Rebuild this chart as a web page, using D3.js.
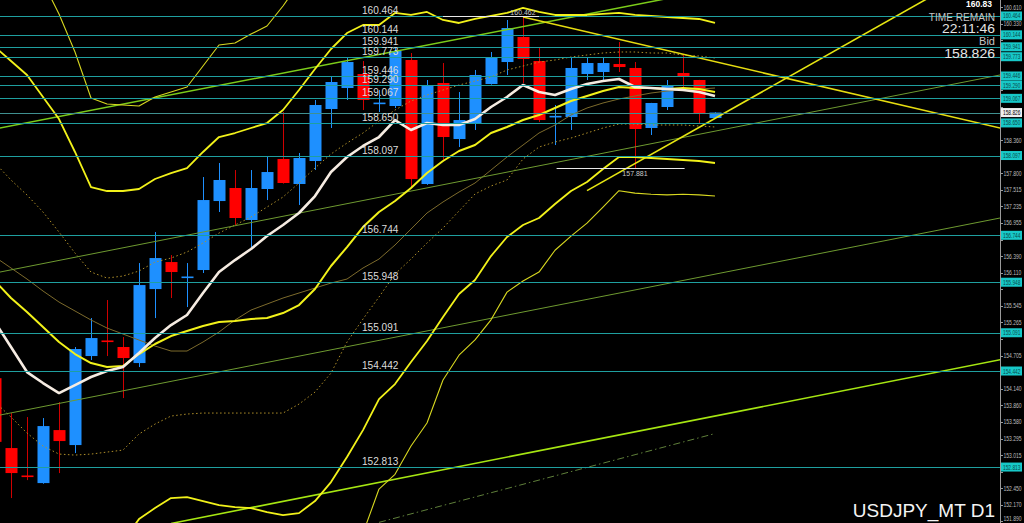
<!DOCTYPE html>
<html><head><meta charset="utf-8">
<script src="https://cdn.jsdelivr.net/npm/d3@7"></script>
<style>html,body{margin:0;padding:0;background:#000;}svg{display:block;}</style>
</head><body>
<svg id="chart" width="1024" height="523"></svg>
<script>
// ---------------- DATA ----------------
const firstIndex = -1; // index of first candle (partly off-screen)
const opens  = [154.32,153.135,152.670,152.541,153.440,153.186,154.696,154.960,154.849,154.577,155.832,156.290,156.030,156.155,157.325,157.546,157.003,157.529,158.038,157.614,158.004,158.886,159.242,159.480,158.980,158.937,159.717,157.614,159.327,158.377,158.632,159.310,159.683,160.107,159.700,158.760,158.750,159.480,159.514,159.649,159.582,158.564,158.920,159.497,159.378,158.733];
const highs  = [154.36,153.728,153.661,153.644,153.915,154.849,155.340,155.646,155.018,156.273,156.799,156.409,156.273,157.732,157.970,157.851,157.851,158.089,158.835,158.140,159.039,159.429,159.768,159.700,159.208,159.938,159.836,159.378,159.666,159.174,159.548,159.853,160.396,160.462,159.938,158.954,159.751,159.751,159.768,160.023,159.683,158.990,159.378,159.802,159.380,158.830];
const lows   = [153.15,152.287,152.592,152.530,152.711,153.050,154.628,154.696,153.983,154.509,155.340,155.680,155.527,156.104,157.139,156.918,156.545,157.342,157.620,157.258,157.851,158.564,159.039,158.869,158.835,158.903,157.563,157.600,158.021,158.241,158.530,159.300,159.463,159.327,158.665,158.275,158.530,159.378,159.378,159.514,157.881,158.445,158.869,159.259,158.648,158.733];
const closes = [153.24,152.711,152.650,153.508,153.254,154.815,155.001,154.940,154.662,155.900,156.358,156.121,156.045,157.342,157.682,157.037,157.546,157.817,157.631,158.055,158.954,159.344,159.683,159.039,158.995,159.870,157.698,159.276,158.411,158.699,159.463,159.768,160.260,159.734,158.699,158.770,159.582,159.666,159.666,159.598,158.547,158.988,159.293,159.446,158.801,158.826];

const maWhite = [155.273,154.849,154.424,154.238,154.068,154.204,154.340,154.441,154.509,154.747,155.001,155.222,155.392,155.765,156.121,156.324,156.511,156.732,156.918,157.122,157.410,157.817,158.072,158.259,158.411,158.699,158.530,158.648,158.615,158.615,158.716,158.920,159.090,159.293,159.174,159.123,159.225,159.310,159.361,159.395,159.259,159.242,159.225,159.208,159.174,159.106];
const bbMid = [155.968,155.680,155.442,155.188,154.934,154.730,154.577,154.509,154.526,154.730,154.900,155.035,155.120,155.205,155.273,155.290,155.324,155.341,155.425,155.561,155.833,156.223,156.545,156.884,157.139,157.325,157.546,157.800,158.004,158.174,158.275,158.479,158.581,158.699,158.784,158.903,159.022,159.107,159.191,159.259,159.242,159.242,159.225,159.242,159.225,159.174];
const bbUp2 = [159.938,159.700,159.463,159.090,158.716,158.157,157.563,157.495,157.495,157.529,157.699,157.800,157.885,158.157,158.411,158.479,158.564,158.648,158.869,159.208,159.565,159.904,160.175,160.311,160.311,160.515,160.481,160.532,160.396,160.345,160.413,160.464,160.515,160.600,160.532,160.481,160.481,160.481,160.498,160.515,160.481,160.464,160.447,160.430,160.413,160.345];
const bbLow2 = [151.49,151.659,151.422,151.286,151.151,151.303,151.591,151.524,151.557,151.930,152.117,152.287,152.304,152.236,152.168,152.134,152.117,152.049,151.998,152.032,152.236,152.558,152.983,153.440,153.966,154.221,154.594,154.950,155.358,155.748,155.985,156.392,156.715,156.918,157.037,157.274,157.495,157.648,157.868,158.072,158.072,158.055,158.038,158.021,158.004,157.970];
const bbUp3 = [161.922,161.702,161.47,161.04,160.498,159.853,159.073,158.971,158.954,158.937,159.09,159.174,159.259,159.615,159.972,160.006,160.158,160.294,160.633,161.02,161.43,161.75,161.99,162.02,161.89,162.11,161.96,161.89,161.58,161.43,161.48,161.45,161.48,161.55,161.41,161.28,161.21,161.18,161.16,161.14,161.11,161.07,161.06,161.02,161.01,160.92];
const bbLow3 = [149.25,149.64,149.40,149.34,149.25,149.59,150.10,150.03,150.07,150.52,150.73,150.91,150.90,150.76,150.61,150.56,150.51,150.40,150.29,150.27,150.44,150.73,151.20,151.69,152.44,152.69,153.17,153.56,154.29,154.71,154.97,155.31,155.78,155.97,156.12,156.49,156.73,156.95,157.22,157.50,157.46,157.44,157.43,157.44,157.43,157.41];
const maBrown = [156.375,156.189,156.002,155.799,155.612,155.460,155.307,155.171,155.069,154.967,154.866,154.781,154.781,154.934,155.103,155.307,155.476,155.578,155.680,155.765,155.850,155.934,156.002,156.189,156.341,156.579,156.850,157.122,157.309,157.478,157.631,157.851,158.072,158.275,158.479,158.614,158.784,158.903,158.988,159.056,159.107,159.157,159.191,159.208,159.225,159.242];
const dotUpper = [157.970,157.682,157.427,157.139,156.799,156.443,156.121,156.019,156.053,156.138,156.290,156.358,156.460,156.613,156.782,156.918,157.054,157.223,157.393,157.631,157.885,158.123,158.309,158.479,158.682,158.869,159.022,159.123,159.208,159.293,159.361,159.429,159.548,159.615,159.683,159.717,159.768,159.802,159.836,159.853,159.853,159.836,159.836,159.802,159.785,159.751];
const dotLower = [153.915,153.661,153.390,153.169,153.033,153.016,153.033,153.067,153.101,153.373,153.542,153.678,153.712,153.729,153.729,153.729,153.729,153.729,153.729,153.881,154.085,154.407,154.933,155.324,155.697,156.087,156.341,156.613,156.867,157.156,157.444,157.580,157.682,158.038,158.241,158.326,158.394,158.479,158.564,158.632,158.632,158.615,158.615,158.615,158.598,158.581];

// trendlines: [startIndex, startPrice, endIndex, endPrice]
const trendGreenUpper = [-1, 158.547, 41, 160.759];
const trendOliveA     = [-1, 156.104, 62, 159.473];
const trendOliveB     = [-1, 153.678, 62, 157.047];
const trendGreenLower = [10, 151.856, 62, 154.644];
const trendDashDot    = [23, 151.875, 44, 153.381];
const trendYellowDown = [32, 160.447, 62, 158.552];
const trendYellowUp   = [36, 157.502, 58, 160.870];

// horizontal levels
const levels = [160.464,160.144,159.941,159.773,159.446,159.290,159.067,158.650,158.097,156.744,155.948,155.091,154.442,152.813];
const levelLabels = ["160.464","160.144","159.941","159.773","159.446","159.290","159.067","158.650","158.097","156.744","155.948","155.091","154.442","152.813"];
const bidPrice = 158.826;
const highMark = [27, 33, 160.462, "160.462", 32];   // from idx, to idx, price, label, label idx
const lowMark  = [34.1, 42.1, 157.881, "157.881", 39];

const axisTicks = ["160.610","160.330","160.050","159.770","159.490","159.205","158.925","158.645","158.360","158.080","157.800","157.515","157.235","156.955","156.670","156.390","156.110","155.830","155.545","155.265","154.985","154.705","154.420","154.140","153.860","153.580","153.295","153.015","152.735","152.450","152.170","151.890"];

const symbolText = "USDJPY_MT D1";
const timeRemain = "22:11:46";

// ---------------- DRAW ----------------
const W = 1024, H = 523, plotRight = 1000;
const svg = d3.select("#chart");
svg.append("rect").attr("width", W).attr("height", H).attr("fill", "#000");

const x = d3.scaleLinear().domain([-1, 44]).range([-5, 715]);
const y = d3.scaleLinear().domain([151.864, 160.735]).range([H, 0]);

svg.append("defs").append("clipPath").attr("id", "plot")
  .append("rect").attr("x", 0).attr("y", 0).attr("width", plotRight).attr("height", H);
const g = svg.append("g").attr("clip-path", "url(#plot)");

const FONT = "'Liberation Sans', Arial, sans-serif";

// candles
const candles = opens.map((o, k) => ({i: firstIndex + k, o, h: highs[k], l: lows[k], c: closes[k]}));
const bull = "#1e90ff", bear = "#ff0000";
const cg = g.append("g");
cg.selectAll("line.wick").data(candles).join("line")
  .attr("x1", d => Math.round(x(d.i)) + 0.5).attr("x2", d => Math.round(x(d.i)) + 0.5)
  .attr("y1", d => y(d.h)).attr("y2", d => y(d.l))
  .attr("stroke", d => d.c >= d.o ? bull : "#d00000").attr("stroke-width", 1);
cg.selectAll("rect.body").data(candles).join("rect")
  .attr("x", d => Math.round(x(d.i)) - 5.5).attr("width", 12)
  .attr("y", d => y(Math.max(d.o, d.c)))
  .attr("height", d => Math.max(1.6, Math.abs(y(d.o) - y(d.c))))
  .attr("fill", d => d.c >= d.o ? bull : bear);

// series lines
const lineGen = d3.line().x((d, k) => x(firstIndex + k)).y(d => y(d));
function series(arr, color, width, dash) {
  const p = g.append("path").datum(arr).attr("d", lineGen)
    .attr("fill", "none").attr("stroke", color).attr("stroke-width", width)
    .attr("stroke-linejoin", "round");
  if (dash) p.attr("stroke-dasharray", dash);
}
function trend(t, color, width, dash) {
  const p = g.append("line")
    .attr("x1", x(t[0])).attr("y1", y(t[1])).attr("x2", x(t[2])).attr("y2", y(t[3]))
    .attr("stroke", color).attr("stroke-width", width);
  if (dash) p.attr("stroke-dasharray", dash);
}

series(dotUpper, "#b0902a", 1, "1.5,2.5");
series(dotLower, "#b0902a", 1, "1.5,2.5");
series(maBrown, "#7d6b2c", 1);
trend(trendOliveA, "#6e9a30", 1);
trend(trendOliveB, "#6e9a30", 1);
trend(trendDashDot, "#5f7f3a", 1, "7,3,1.5,3");
trend(trendGreenUpper, "#7ccc1a", 1.5);
trend(trendGreenLower, "#a6e612", 1.6);
series(bbUp3, "#d8d820", 1.1);
series(bbLow3, "#d8d820", 1.1);
series(bbUp2, "#f2f21a", 1.8);
series(bbLow2, "#f2f21a", 1.8);
series(bbMid, "#f2f21a", 2);
trend(trendYellowDown, "#e6dc10", 1.5);
trend(trendYellowUp, "#e6e612", 1.6);
series(maWhite, "#f6ece2", 2.6);

// horizontal level lines
g.selectAll("line.lvl").data(levels).join("line")
  .attr("x1", 0).attr("x2", plotRight)
  .attr("y1", d => Math.round(y(d)) + 0.5).attr("y2", d => Math.round(y(d)) + 0.5)
  .attr("stroke", "#1f9f9f").attr("stroke-width", 1);
g.append("line").attr("x1", 0).attr("x2", plotRight)
  .attr("y1", Math.round(y(bidPrice)) + 0.5).attr("y2", Math.round(y(bidPrice)) + 0.5)
  .attr("stroke", "#3f9090").attr("stroke-width", 1);

// high / low markers
[highMark, lowMark].forEach((m, k) => {
  g.append("line").attr("x1", x(m[0])).attr("x2", x(m[1]))
    .attr("y1", Math.round(y(m[2])) + 0.5).attr("y2", Math.round(y(m[2])) + 0.5)
    .attr("stroke", "#e8e8e8").attr("stroke-width", 1.2);
  g.append("text").attr("x", x(m[4])).attr("y", y(m[2]) + (k === 0 ? -1 : 8))
    .attr("text-anchor", "middle").attr("fill", "#c8c8c8")
    .attr("font-family", FONT).attr("font-size", 7).text(m[3]);
});

// level labels (slightly condensed like the terminal font)
g.selectAll("g.lvl").data(levels).join("g")
  .attr("transform", d => `translate(362,${y(d) - 2}) scale(0.96,1)`)
  .append("text").attr("fill", "#dcdcdc").attr("font-family", FONT).attr("font-size", 10.5)
  .text((d, k) => levelLabels[k]);

// right axis
svg.append("line").attr("x1", plotRight + 0.5).attr("x2", plotRight + 0.5)
  .attr("y1", 0).attr("y2", H).attr("stroke", "#9a9a9a").attr("stroke-width", 1);
const ag = svg.append("g");
const allBoxPrices = levels.concat([bidPrice]);
const visibleTicks = axisTicks.filter(t => allBoxPrices.every(v => Math.abs(y(v) - y(+t)) > 7));
ag.selectAll("line.tk").data(axisTicks).join("line")
  .attr("x1", plotRight).attr("x2", plotRight + 3)
  .attr("y1", d => Math.round(y(+d)) + 0.5).attr("y2", d => Math.round(y(+d)) + 0.5)
  .attr("stroke", "#9a9a9a");
ag.selectAll("g.tk").data(visibleTicks).join("g")
  .attr("transform", d => `translate(${plotRight + 3.5},${Math.min(y(+d), 518) + 2.5}) scale(0.72,1)`)
  .append("text").attr("fill", "#bdbdbd").attr("font-family", FONT).attr("font-size", 7)
  .text(d => d);

// level boxes
const boxes = levels.map((v, k) => ({v, t: levelLabels[k], fill: "#17c8c8", fg: "#0b4a4a"}));
boxes.push({v: bidPrice, t: "158.826", fill: "#f0f0f0", fg: "#000"});
const bg = ag.selectAll("g.box").data(boxes).join("g")
  .attr("transform", d => `translate(${plotRight + 1},${y(d.v)})`);
bg.append("rect").attr("x", 0).attr("y", -4.5).attr("width", 21).attr("height", 9).attr("fill", d => d.fill);
bg.append("g").attr("transform", "translate(2,2.5) scale(0.69,1)")
  .append("text").attr("fill", d => d.fg)
  .attr("font-family", FONT).attr("font-size", 7).text(d => d.t);

// info text
svg.append("text").attr("x", 966).attr("y", 7).attr("fill", "#fff").attr("font-weight", "bold")
  .attr("font-family", FONT).attr("font-size", 8.5).text("160.83");
const info = [
  {t: "TIME REMAIN", yy: 21, fs: 11, c: "#c4c4c4", sx: 0.92},
  {t: timeRemain, yy: 33, fs: 13, c: "#e4e4e4", sx: 1.07},
  {t: "Bid", yy: 45, fs: 10.5, c: "#c4c4c4", sx: 1.05},
  {t: "158.826", yy: 58, fs: 13, c: "#e8e8e8", sx: 1.08}
];
svg.selectAll("g.info").data(info).join("g")
  .attr("transform", d => `translate(995,${d.yy}) scale(${d.sx},1)`)
  .append("text").attr("text-anchor", "end")
  .attr("fill", d => d.c).attr("font-family", FONT).attr("font-size", d => d.fs)
  .text(d => d.t);

svg.append("text").attr("x", 995).attr("y", 517).attr("text-anchor", "end")
  .attr("fill", "#f4f4f4").attr("font-family", FONT).attr("font-size", 19)
  .text(symbolText);
</script>
</body></html>
